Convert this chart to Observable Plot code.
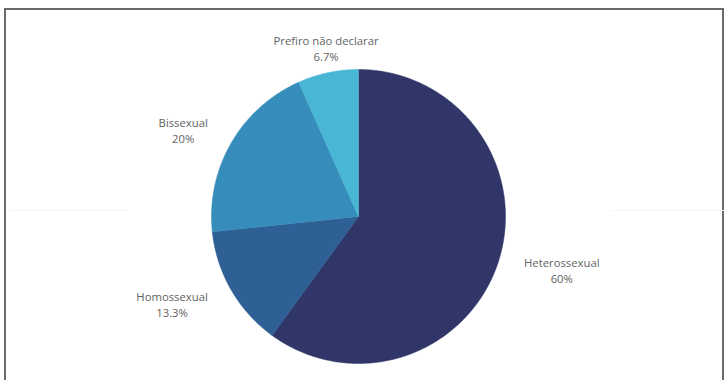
<!DOCTYPE html>
<html>
<head>
<meta charset="utf-8">
<script src="https://cdn.jsdelivr.net/npm/d3@7"></script>
<script src="https://cdn.jsdelivr.net/npm/@observablehq/plot@0.6"></script>
<style>
  html, body { margin: 0; padding: 0; background: #fff; }
  body { width: 725px; height: 380px; position: relative; overflow: hidden; font-family: "Open Sans", sans-serif; }
  #frame { position: absolute; left: 4px; top: 8px; width: 716px; height: 400px;
           border-left: 2px solid #6a6a6a; border-top: 2px solid #6a6a6a; border-right: 2px solid #6a6a6a; }
  .faint { position: absolute; top: 210px; height: 1px; background: #f6f6f6; }
  #chart { position: absolute; left: 0; top: 0; }
</style>
</head>
<body>
<div id="frame"></div>
<div class="faint" style="left:9px;width:119px"></div>
<div class="faint" style="left:611px;width:114px"></div>
<div id="chart"></div>
<script>
const categories = ["Heterossexual", "Homossexual", "Bissexual", "Prefiro não declarar"];
const counts = [9, 2, 3, 1];
const percentLabels = ["60%", "13.3%", "20%", "6.7%"];
const colors = ["#313668", "#2e5f95", "#368cba", "#48b6d4"];

// layout
const W = 725, H = 380, cx = 358, cy = 216, R = 147;
const fontSize = 11.3, lineHeight = 1.42;

const total = d3.sum(counts);
let acc = 0;
const slices = categories.map((c, i) => {
  const a0 = acc / total * 2 * Math.PI;
  acc += counts[i];
  const a1 = acc / total * 2 * Math.PI;
  return {cat: c, a0, a1, mid: (a0 + a1) / 2, pct: percentLabels[i]};
});

// polygon outline of each slice in unit coordinates (geometry of the arc)
const pts = [];
for (const s of slices) {
  pts.push({cat: s.cat, x: 0, y: 0});
  const n = Math.max(8, Math.ceil((s.a1 - s.a0) / (Math.PI / 360)));
  for (let k = 0; k <= n; k++) {
    const a = s.a0 + (s.a1 - s.a0) * k / n;
    pts.push({cat: s.cat, x: Math.sin(a), y: -Math.cos(a)});
  }
  pts.push({cat: s.cat, x: 0, y: 0});
}

// label placement
const ctx = document.createElement("canvas").getContext("2d");
ctx.font = `${fontSize}px "Open Sans"`;
const labels = slices.map(s => {
  const sx = Math.sin(s.mid), sy = -Math.cos(s.mid);
  const side = Math.abs(sx) > 0.3;
  const d = R + (side ? 27 : 9);
  let px = sx * d, py = sy * d;
  const w = Math.max(ctx.measureText(s.cat).width, ctx.measureText(s.pct).width);
  const h = 2 * fontSize * lineHeight;
  if (sx > 0.3) px += w / 2; else if (sx < -0.3) px -= w / 2;
  if (sy < -0.7) py -= h / 2; else if (sy > 0.7) py += h / 2;
  return {cat: s.cat, text: s.cat + "\n" + s.pct, x: px / R, y: py / R};
});

const chart = Plot.plot({
  width: W,
  height: H,
  margin: 0,
  x: {domain: [-1, 1], range: [cx - R, cx + R], axis: null},
  y: {domain: [-1, 1], range: [cy - R, cy + R], axis: null},
  color: {domain: categories, range: colors},
  style: {background: "transparent", overflow: "visible"},
  marks: [
    Plot.line(pts, {x: "x", y: "y", z: "cat", fill: "cat", stroke: "cat", strokeWidth: 0.5, curve: "linear"}),
    Plot.text(labels, {x: "x", y: "y", text: "text", fill: "#636363", fontSize: fontSize,
      fontFamily: "Open Sans", lineHeight: lineHeight, textAnchor: "middle", lineAnchor: "middle"})
  ]
});
document.getElementById("chart").appendChild(chart);
</script>
</body>
</html>
